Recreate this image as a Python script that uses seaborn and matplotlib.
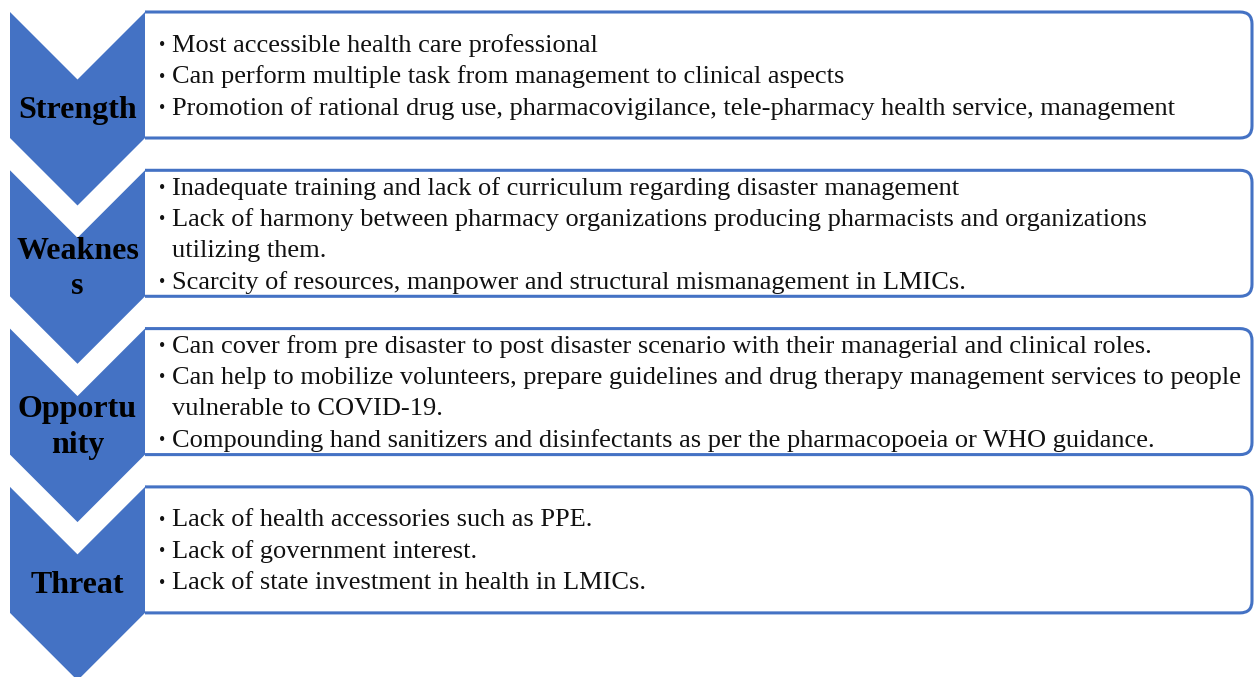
import matplotlib
matplotlib.use("Agg")
import matplotlib.pyplot as plt
from matplotlib.path import Path
from matplotlib.patches import PathPatch, Polygon
import seaborn as sns

# SWOT rows: label (wrapped as in the original) and its bullet points
labels = ["Strength", "Weaknes\ns", "Opportu\nnity", "Threat"]

strength = [
    "Most accessible health care professional",
    "Can perform multiple task from management to clinical aspects",
    "Promotion of rational drug use, pharmacovigilance, tele-pharmacy health service, management",
]
weakness = [
    "Inadequate training and lack of curriculum regarding disaster management",
    "Lack of harmony between pharmacy organizations producing pharmacists and organizations\nutilizing them.",
    "Scarcity of resources, manpower and structural mismanagement in LMICs.",
]
opportunity = [
    "Can cover from pre disaster to post disaster scenario with their managerial and clinical roles.",
    "Can help to mobilize volunteers, prepare guidelines and drug therapy management services to people\nvulnerable to COVID-19.",
    "Compounding hand sanitizers and disinfectants as per the pharmacopoeia or WHO guidance.",
]
threat = [
    "Lack of health accessories such as PPE.",
    "Lack of government interest.",
    "Lack of state investment in health in LMICs.",
]
bullets = [strength, weakness, opportunity, threat]

blue = "#4472C4"

sns.set_theme(style="white")
plt.rcParams["font.family"] = ["Liberation Serif", "DejaVu Serif"]

fig = plt.figure(figsize=(12.54, 6.77), dpi=100)
ax = fig.add_axes([0, 0, 1, 1])
ax.set_xlim(0, 1254)
ax.set_ylim(677, 0)
ax.axis("off")

# layout (pixels)
x0, x1, xr = 10, 145, 1252
row_top, pitch, box_h = 12, 158.3, 126
half = (x1 - x0) / 2
rad = 12
line_gap = 31.5

for i, (lab, items) in enumerate(zip(labels, bullets)):
    top = row_top + i * pitch
    bot = top + box_h
    xm = (x0 + x1) / 2

    # box with rounded right corners
    verts = [(x1, top), (xr - rad, top), (xr, top), (xr, top + rad),
             (xr, bot - rad), (xr, bot), (xr - rad, bot), (x1, bot)]
    codes = [Path.MOVETO, Path.LINETO, Path.CURVE3, Path.CURVE3,
             Path.LINETO, Path.CURVE3, Path.CURVE3, Path.LINETO]
    ax.add_patch(PathPatch(Path(verts, codes), facecolor="white",
                           edgecolor=blue, lw=2.2, zorder=1))

    # chevron
    chev = [(x0, top), (xm, top + half), (x1, top), (x1, bot),
            (xm, bot + half), (x0, bot)]
    ax.add_patch(Polygon(chev, closed=True, facecolor=blue,
                         edgecolor="none", zorder=2))

    ax.text(xm, (top + bot + half) / 2 + 2, lab, ha="center", va="center",
            fontsize=23, fontweight="bold", color="black",
            linespacing=1.3, zorder=3)

    # bullet lines
    lines = []
    for item in items:
        for k, part in enumerate(item.split("\n")):
            lines.append((k == 0, part))
    n = len(lines)
    yc = top + box_h / 2 + 2
    for j, (first, txt) in enumerate(lines):
        y = yc + (j - (n - 1) / 2) * line_gap
        if first:
            ax.text(159, y, "\u2022", ha="left", va="center", fontsize=13,
                    color="#111111", zorder=3)
        ax.text(172, y, txt, ha="left", va="center", fontsize=19,
                color="#111111", zorder=3)

fig.savefig("out.png", dpi=100)
